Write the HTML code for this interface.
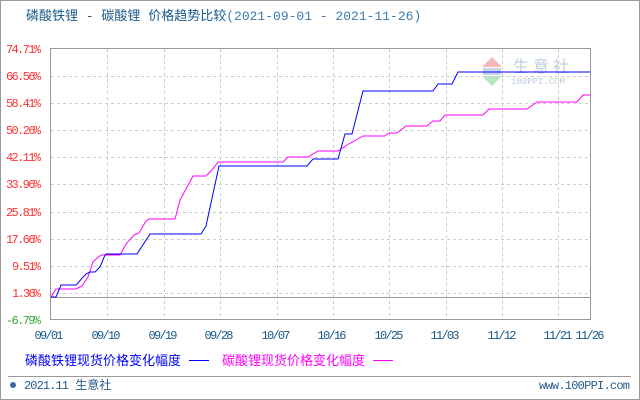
<!DOCTYPE html>
<html><head><meta charset="utf-8"><style>
body{margin:0;background:#fff}
svg{display:block}
text{font-family:"Liberation Mono","WenQuanYi Zen Hei","Noto Sans CJK SC",monospace}
</style></head><body>
<svg width="640" height="400" xmlns="http://www.w3.org/2000/svg">
<rect x="0.5" y="0.5" width="639" height="399" fill="#fff" stroke="#999"/>
<text x="26" y="20" font-size="13" fill="#1a5a8a" font-family="'Liberation Sans','WenQuanYi Zen Hei','Noto Sans CJK SC',sans-serif">磷酸铁锂 - 碳酸锂 价格趋势比较<tspan fill="#3a7ab0">(2021-09-01 - 2021-11-26)</tspan></text>
<polygon points="482,67 492,57 502,67" fill="#f4b8b8"/>
<polygon points="482,76 492,86 502,76" fill="#b8e8c0"/>
<rect x="483" y="68" width="18" height="7" fill="#c8d4e8"/>
<text x="513" y="72" font-size="16" fill="#c0cde0" font-family="'WenQuanYi Zen Hei','Noto Sans CJK SC',sans-serif" letter-spacing="4">生意社</text>
<text x="511" y="84" font-size="9" fill="#c0cde0">100PPI.COM</text>
<g stroke="#ccc" stroke-dasharray="3,3" stroke-width="1">
<line x1="107.5" y1="49" x2="107.5" y2="320"/><line x1="164.5" y1="49" x2="164.5" y2="320"/>
<line x1="220.5" y1="49" x2="220.5" y2="320"/><line x1="277.5" y1="49" x2="277.5" y2="320"/>
<line x1="333.5" y1="49" x2="333.5" y2="320"/><line x1="389.5" y1="49" x2="389.5" y2="320"/>
<line x1="446.5" y1="49" x2="446.5" y2="320"/><line x1="502.5" y1="49" x2="502.5" y2="320"/>
<line x1="558.5" y1="49" x2="558.5" y2="320"/>
<line x1="51" y1="76.5" x2="590" y2="76.5"/><line x1="51" y1="103.5" x2="590" y2="103.5"/>
<line x1="51" y1="130.5" x2="590" y2="130.5"/><line x1="51" y1="157.5" x2="590" y2="157.5"/>
<line x1="51" y1="184.5" x2="590" y2="184.5"/><line x1="51" y1="212.5" x2="590" y2="212.5"/>
<line x1="51" y1="239.5" x2="590" y2="239.5"/><line x1="51" y1="266.5" x2="590" y2="266.5"/>
<line x1="51" y1="293.5" x2="590" y2="293.5"/>
</g>
<line x1="51" y1="297.5" x2="590" y2="297.5" stroke="#999"/>
<rect x="50.5" y="48.5" width="540" height="271" fill="none" stroke="#999"/>
<g font-size="12" fill="#ff3333" text-anchor="end">
<text x="41" y="53" textLength="35">74.71%</text><text x="41" y="80" textLength="35">66.56%</text><text x="41" y="107" textLength="35">58.41%</text>
<text x="41" y="134" textLength="35">50.26%</text><text x="41" y="161" textLength="35">42.11%</text><text x="41" y="188" textLength="35">33.96%</text>
<text x="41" y="216" textLength="35">25.81%</text><text x="41" y="243" textLength="35">17.66%</text><text x="41" y="270" textLength="29">9.51%</text>
<text x="41" y="297" textLength="29">1.36%</text><text x="41" y="324" fill="#33aa33" textLength="35">-6.79%</text>
</g>
<g font-size="12" fill="#1a5a8a" text-anchor="middle">
<text x="49" y="339" textLength="29">09/01</text><text x="106" y="339" textLength="29">09/10</text><text x="163" y="339" textLength="29">09/19</text>
<text x="219" y="339" textLength="29">09/28</text><text x="276" y="339" textLength="29">10/07</text><text x="332" y="339" textLength="29">10/16</text>
<text x="389" y="339" textLength="29">10/25</text><text x="445" y="339" textLength="29">11/03</text><text x="502" y="339" textLength="29">11/12</text>
<text x="558" y="339" textLength="29">11/21</text><text x="590" y="339" textLength="29">11/26</text>
</g>
<polyline fill="none" stroke="#ff00ff" stroke-width="1" points="51,297 56,289 76,289 82,286 88,277 93,262 96,259 101,255 120,255 126,244 134,235 139,233 146,221 149,219 175,219 180,200 193,176 206,176 212,170 218,162 283,162 288,157 308,157 318,151 338,151 347,145 363,136 385,136 389,133 397,133 406,126 427,126 433,121 440,121 445,115 483,115 489,109 527,109 537,102 577,102 583,95 590,95"/>
<polyline fill="none" stroke="#0000ff" stroke-width="1" points="51,297 56,297 61,285 76,285 86,274 90,272 95,272 100,267 105,255 106,254 137,254 150,234 201,234 206,226 219,166 307,166 313,159 338,159 345,134 352,134 363,91 433,91 438,84 452,84 458,72 590,72"/>
<g font-size="13" font-family="'WenQuanYi Zen Hei','Noto Sans CJK SC',sans-serif">
<text x="25" y="365" fill="#0000ff">磷酸铁锂现货价格变化幅度</text>
<line x1="189" y1="360.5" x2="209" y2="360.5" stroke="#0000ff"/>
<text x="222" y="365" fill="#ff00ff">碳酸锂现货价格变化幅度</text>
<line x1="373" y1="360.5" x2="393" y2="360.5" stroke="#ff00ff"/>
</g>
<line x1="8" y1="376.5" x2="631" y2="376.5" stroke="#999"/>
<circle cx="13" cy="385" r="3" fill="#3a6a9a"/>
<text x="24" y="389" font-size="12" fill="#2a5a8a"><tspan textLength="45">2021.11</tspan> <tspan font-family="'WenQuanYi Zen Hei','Noto Sans CJK SC',sans-serif">生意社</tspan></text>
<text x="630" y="389" font-size="12" fill="#2a5a8a" text-anchor="end" textLength="91">www.100PPI.com</text>
</svg>
</body></html>
